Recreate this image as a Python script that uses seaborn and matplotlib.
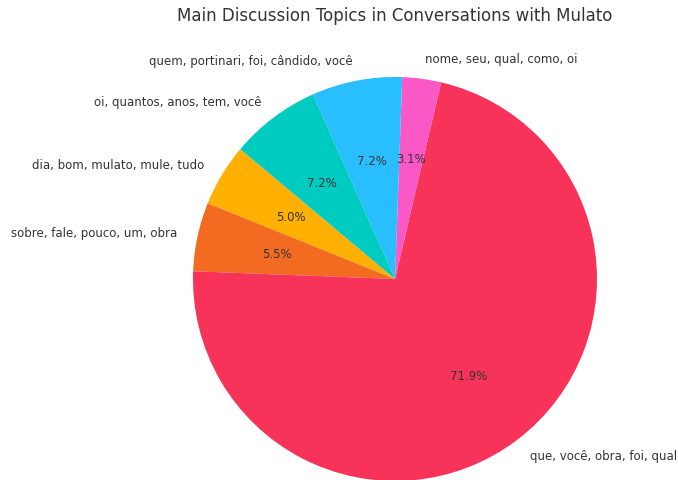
import matplotlib
matplotlib.use("Agg")
import matplotlib.pyplot as plt
import seaborn as sns

sns.set_theme(style="white")
plt.rcParams['font.family'] = ['DejaVu Sans']

topics = [
    "dia, bom, mulato, mule, tudo",
    "sobre, fale, pouco, um, obra",
    "que, você, obra, foi, qual",
    "nome, seu, qual, como, oi",
    "quem, portinari, foi, cândido, você",
    "oi, quantos, anos, tem, você",
]
shares = [5.0, 5.5, 71.94, 3.1, 7.23, 7.23]
colors = ["#FFB000", "#F26B21", "#F73359", "#FA58C6", "#29BEFF", "#00CBC0"]

fig = plt.figure(figsize=(6.78, 4.81), dpi=100)
ax = fig.add_axes([0, 0, 1, 1])
wedges, texts, autotexts = ax.pie(
    shares, labels=topics, colors=colors, autopct="%1.1f%%",
    startangle=140, labeldistance=1.1, pctdistance=0.6,
    textprops={"color": "#333333", "fontsize": 8.5},
    wedgeprops={"linewidth": 0, "edgecolor": "none"},
)
ax.set_xlim(-395 / 202, (678 - 395) / 202)
ax.set_ylim(-201 / 202, 280 / 202)
ax.set_aspect("auto")
ax.axis("off")

fig.text(395 / 678, 1 - 16 / 481, "Main Discussion Topics in Conversations with Mulato",
         ha="center", va="center", fontsize=12, color="#333333")

fig.savefig("out.png", dpi=100)
